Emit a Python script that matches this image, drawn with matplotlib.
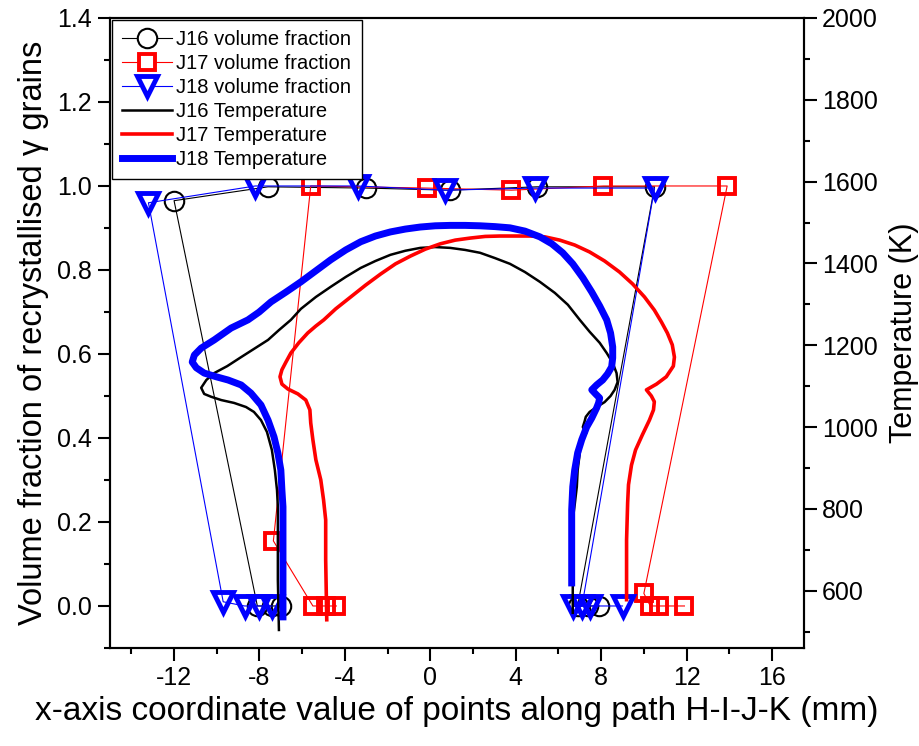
import numpy as np
import matplotlib.pyplot as plt
from matplotlib.lines import Line2D
from matplotlib.ticker import MultipleLocator, FormatStrFormatter

plt.rcParams['font.family'] = ['Liberation Sans', 'DejaVu Sans']
plt.rcParams['axes.unicode_minus'] = False

# volume fraction points along the path (x in mm, fraction)
j16_x = [-7.0, -7.4, -8.1, -12.0, -7.6, -3.0, 0.9, 5.0, 10.5, 6.9, 7.4, 7.9]
j16_f = [0.0, 0.0, 0.0, 0.965, 0.998, 0.995, 0.99, 0.998, 0.998, 0.0, 0.0, 0.0]

j17_x = [-4.4, -4.9, -5.5, -7.35, -5.6, -0.15, 3.8, 8.1, 13.9, 10.0, 10.3, 10.7, 11.9]
j17_f = [0.0, 0.0, 0.0, 0.155, 1.0, 0.995, 0.99, 1.0, 1.0, 0.03, 0.0, 0.0, 0.0]

j18_x = [-7.4, -8.0, -8.7, -9.7, -13.2, -8.2, -3.4, 0.7, 4.9, 10.5, 7.1, 6.7, 7.5, 9.0]
j18_f = [0.0, 0.0, 0.0, 0.01, 0.96, 1.0, 1.0, 0.99, 0.995, 0.995, 0.0, 0.0, 0.0, 0.0]

# temperature profiles (x in mm, K)
t16_x = [-7.09, -7.14, -7.14, -7.18, -7.28, -7.42, -7.65, -7.93, -8.26, -8.63, -9.19, -9.79,
         -10.26, -10.59, -10.73, -10.49, -10.12, -9.51, -8.86, -8.26, -7.60, -7.09, -6.53,
         -6.06, -5.36, -4.66, -3.96, -3.26, -2.57, -1.87, -1.17, -0.47, 0.23, 0.93, 1.63,
         2.33, 3.03, 3.73, 4.43, 5.13, 5.83, 6.44, 7.0, 7.46, 7.93, 8.26, 8.54, 8.72, 8.77,
         8.63, 8.44, 8.16, 7.79, 7.46, 7.28, 7.23, 7.14, 7.3, 7.04, 7.0, 6.90, 6.86, 6.76,
         6.67, 6.67, 6.67]
t16_t = [504, 626, 805, 846, 895, 944, 988, 1017, 1037, 1049, 1059, 1066,
         1074, 1081, 1096, 1115, 1132, 1149, 1171, 1191, 1213, 1237, 1262,
         1289, 1318, 1343, 1367, 1389, 1406, 1421, 1431, 1438, 1440, 1438, 1433,
         1426, 1413, 1399, 1379, 1355, 1328, 1299, 1262, 1233, 1206, 1181, 1157, 1132, 1110,
         1091, 1076, 1061, 1049, 1037, 1025, 1015, 1000, 985, 969, 937, 895, 854, 810,
         773, 675, 546]

t17_x = [-4.85, -4.90, -4.90, -5.0, -5.13, -5.36, -5.50, -5.60, -5.64, -5.83, -6.20, -6.67,
         -6.95, -7.04, -6.95, -6.76, -6.53, -6.16, -5.74, -5.36, -4.99, -4.43, -3.73, -3.03,
         -2.33, -1.63, -0.93, -0.23, 0.47, 1.17, 1.87, 2.57, 3.26, 3.96, 4.66, 5.36, 6.06,
         6.76, 7.46, 8.16, 8.86, 9.47, 10.03, 10.49, 10.82, 11.10, 11.33, 11.43, 11.38,
         11.05, 10.59, 10.12, 10.35, 10.49, 10.45, 10.26, 9.93, 9.61, 9.42, 9.28, 9.24,
         9.19, 9.19]
t17_t = [529, 675, 773, 822, 871, 920, 969, 1010, 1042, 1066, 1081, 1093,
         1105, 1123, 1140, 1159, 1181, 1206, 1230, 1247, 1262, 1289, 1318, 1347,
         1374, 1399, 1418, 1435, 1448, 1457, 1462, 1466, 1467, 1467, 1467, 1465, 1457,
         1445, 1428, 1406, 1379, 1350, 1318, 1286, 1257, 1230, 1201, 1171, 1149,
         1123, 1105, 1091, 1076, 1062, 1042, 1017, 981, 944, 907, 859, 815,
         724, 578]

t18_x = [-6.90, -6.90, -6.95, -7.00, -7.14, -7.32, -7.60, -7.93, -8.40, -8.86, -9.47, -10.03,
         -10.59, -10.96, -11.15, -11.05, -10.73, -10.12, -9.33, -8.54, -8.02, -7.46, -6.76,
         -6.06, -5.36, -4.66, -3.96, -3.26, -2.57, -1.87, -1.17, -0.47, 0.23, 0.93, 1.63,
         2.33, 3.03, 3.73, 4.43, 5.13, 5.69, 6.20, 6.67, 7.14, 7.56, 7.93, 8.26, 8.44, 8.54,
         8.54, 8.49, 8.30, 8.07, 7.79, 7.56, 7.74, 7.93, 7.88, 7.79, 7.56, 7.32, 7.09, 6.90,
         6.76, 6.67, 6.62, 6.62, 6.62]
t18_t = [536, 805, 846, 895, 937, 976, 1017, 1054, 1083, 1103, 1115, 1123,
         1132, 1145, 1159, 1176, 1193, 1213, 1242, 1262, 1281, 1306, 1330,
         1355, 1382, 1409, 1433, 1453, 1467, 1477, 1484, 1489, 1492, 1493, 1493,
         1492, 1490, 1487, 1479, 1465, 1448, 1426, 1399, 1365, 1330, 1296, 1262, 1230, 1196,
         1169, 1147, 1130, 1115, 1103, 1091, 1081, 1071, 1059, 1047, 1022, 1000, 969, 937,
         895, 854, 798, 724, 619]

fig = plt.figure(figsize=(9.19, 7.46), dpi=100)
ax = fig.add_axes([0.1197, 0.1314, 0.7552, 0.8445])
ax2 = ax.twinx()

ax.plot(j16_x, j16_f, color="black", lw=0.8, marker="o", ms=14, mfc="none", mec="black", mew=1.5)
ax.plot(j17_x, j17_f, color="red", lw=0.8, marker="s", ms=12, mfc="none", mec="red", mew=2.8)
ax.plot(j18_x, j18_f, color="blue", lw=0.8, marker="v", ms=14, mfc="none", mec="blue", mew=3.5)

ax2.plot(t16_x, t16_t, color="black", lw=1.8, solid_joinstyle="round")
ax2.plot(t17_x, t17_t, color="red", lw=2.6, solid_joinstyle="round")
ax2.plot(t18_x, t18_t, color="blue", lw=5, solid_joinstyle="round")

ax.set_xlim(-15, 17.5)
ax.set_ylim(-0.1, 1.4)
ax2.set_ylim(460, 2000)

ax.set_xticks(np.arange(-12, 17, 4))
ax.xaxis.set_minor_locator(MultipleLocator(2))
ax.set_yticks(np.arange(0, 1.41, 0.2))
ax.yaxis.set_minor_locator(MultipleLocator(0.1))
ax.yaxis.set_major_formatter(FormatStrFormatter("%.1f"))
ax2.set_yticks(np.arange(600, 2001, 200))
ax2.yaxis.set_minor_locator(MultipleLocator(100))

for a in (ax, ax2):
    a.tick_params(which="major", direction="out", length=9, width=1.5, labelsize=18, pad=4)
    a.tick_params(which="minor", direction="out", length=4.5, width=1.5)
    for s in a.spines.values():
        s.set_linewidth(1.5)

ax.set_xlabel("x-axis coordinate value of points along path H-I-J-K (mm)", fontsize=24, labelpad=4)
ax.set_ylabel("Volume fraction of recrystallised γ grains", fontsize=23.5, labelpad=6)
ax2.set_ylabel("Temperature (K)", fontsize=22, labelpad=8)

handles = [
    Line2D([], [], color="black", lw=0.8, marker="o", ms=14, mfc="white", mec="black", mew=1.5),
    Line2D([], [], color="red", lw=0.8, marker="s", ms=12, mfc="white", mec="red", mew=2.8),
    Line2D([], [], color="blue", lw=0.8, marker="v", ms=14, mfc="white", mec="blue", mew=3.5),
    Line2D([], [], color="black", lw=1.8),
    Line2D([], [], color="red", lw=2.6),
    Line2D([], [], color="blue", lw=5),
]
labels = ["J16 volume fraction", "J17 volume fraction", "J18 volume fraction",
          "J16 Temperature", "J17 Temperature", "J18 Temperature"]
leg = ax2.legend(handles, labels, loc="upper left", fontsize=14.5, frameon=True, fancybox=False,
                 edgecolor="black", framealpha=1, borderaxespad=0.1, borderpad=0.5,
                 labelspacing=0.25, handlelength=2.5, handletextpad=0.2)
leg.get_frame().set_linewidth(1.0)

fig.savefig("out.png", dpi=100)
